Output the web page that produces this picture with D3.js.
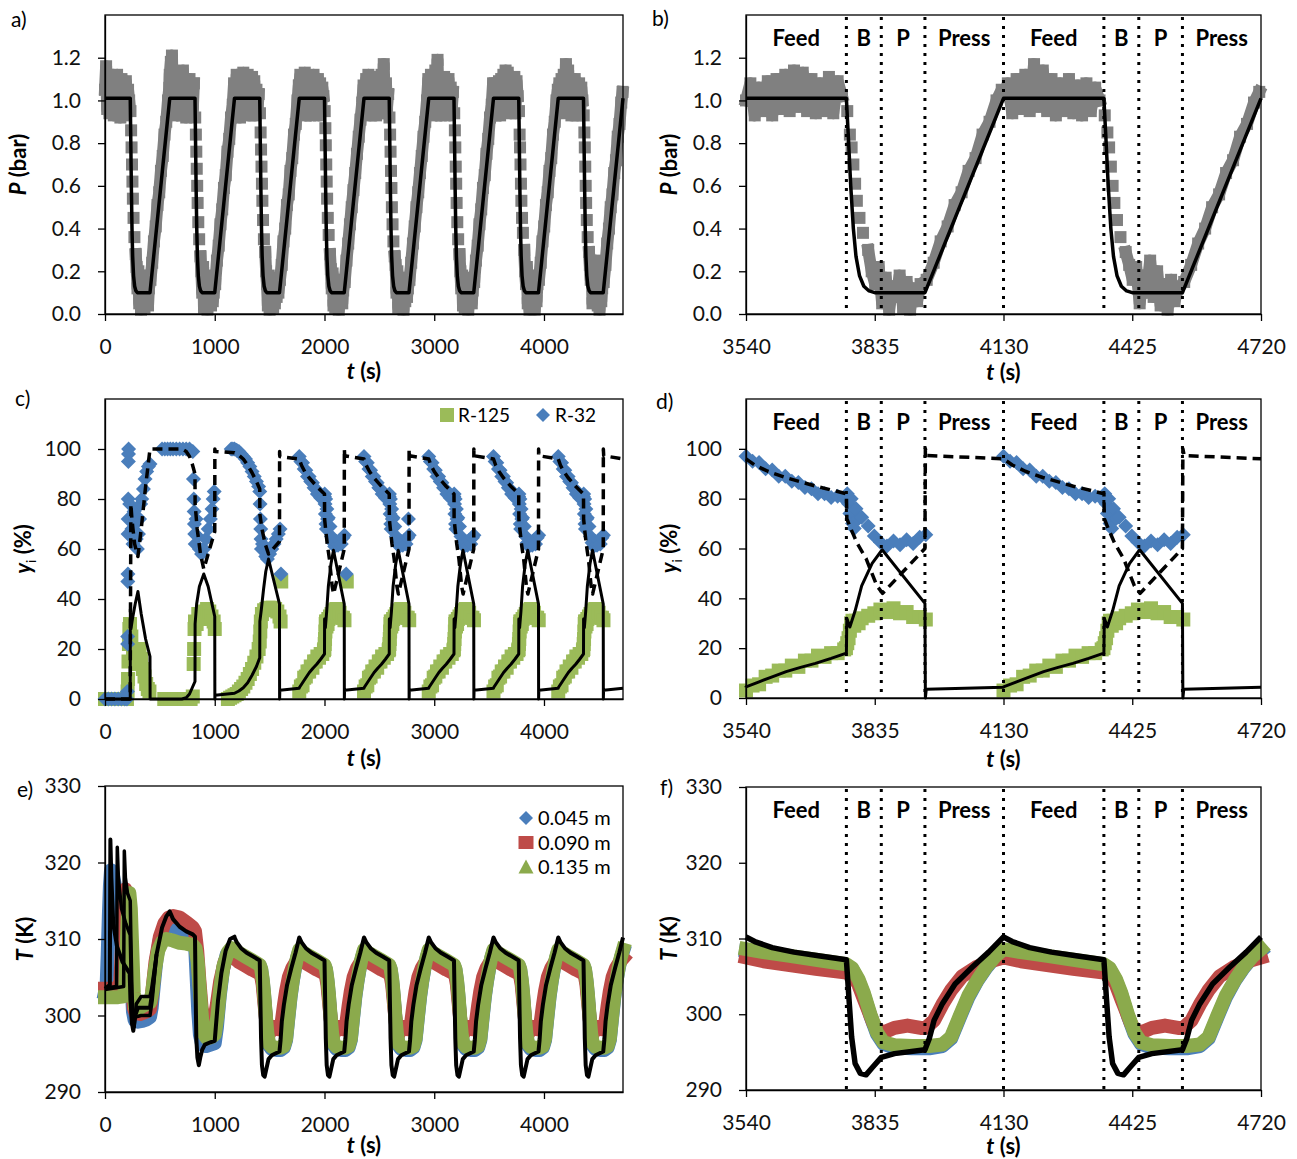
<!DOCTYPE html>
<html>
<head>
<meta charset="utf-8">
<script src="https://cdn.jsdelivr.net/npm/d3@7"></script>
<style>
  body { margin: 0; background: #fff; }
</style>
</head>
<body>
<svg id="chart" width="1297" height="1159"></svg>
<script>
// ---------- cycle layout and ticks ----------
const cycleStarts = [0, 590, 1180, 1770, 2360, 2950, 3540, 4130];
const zoomEdges = [3540, 3770, 3850, 3950, 4130, 4360, 4440, 4540, 4720];
const zoomSteps = ["Feed", "B", "P", "Press", "Feed", "B", "P", "Press"];
const fullTicks = [0, 1000, 2000, 3000, 4000];
const zoomTicks = [3540, 3835, 4130, 4425, 4720];
const pTicks = [0, 0.2, 0.4, 0.6, 0.8, 1.0, 1.2];
const yTicks = [0, 20, 40, 60, 80, 100];
const tTicks = [290, 300, 310, 320, 330];

// ---------- pressure (a, b) ----------
// model: one cycle (offset s, bar), same every cycle
const pModelOffsets = [0, 230, 234, 240, 246, 252, 260, 270, 282, 295, 410, 590];
const pModelCycle = [1.01, 1.01, 0.85, 0.6, 0.4, 0.27, 0.18, 0.13, 0.108, 0.1, 0.1, 1.01];

// experiment: offsets inside a cycle, then per cycle one array per step
const pFeedOffsets = [0,10,20,30,40,50,60,70,80,90,100,110,120,130,140,150,160,170,180,190,200,210,220];
const pBlowOffsets = [232,238,242,246,250,254,260,268];
const pPurgeOffsets = [280,288,296,304,312,320,328,336,344,352,360,368,376,384,392,400];
const pPressOffsets = [414,430,446,462,478,494,510,526,542,558,574,586];

const pFeedExp = [
  [1.05,1.16,0.96,1.12,0.94,1.09,0.95,1.1,0.93,1.06,0.97,1.12,0.94,1.08,0.92,1.1,0.96,1.07,0.93,1.09,0.95,1.05,1.0],
  [1.12,1.18,1.21,0.97,1.13,0.94,1.1,0.93,1.12,0.96,1.07,0.93,1.14,0.95,1.08,0.92,1.06,0.95,1.1,0.93,1.07,0.96,1.08],
  [1.06,0.94,1.12,0.95,1.1,0.92,1.11,0.96,1.13,0.94,1.08,0.95,1.12,0.93,1.06,0.97,1.11,0.94,1.09,0.93,1.05,0.96,1.03],
  [1.07,1.12,0.95,1.1,0.94,1.13,0.93,1.08,0.96,1.11,0.93,1.09,0.95,1.12,0.94,1.07,0.96,1.1,0.93,1.08,0.95,1.06,1.02],
  [1.04,0.95,1.1,0.94,1.12,0.93,1.08,0.96,1.11,0.94,1.09,0.93,1.1,0.95,1.07,0.94,1.12,0.96,1.17,0.94,1.08,0.97,1.03],
  [1.08,0.95,1.12,0.94,1.1,0.96,1.14,0.93,1.19,0.96,1.1,0.93,1.08,0.95,1.11,0.94,1.07,0.96,1.1,0.93,1.06,0.96,1.04],
  [1.0,1.08,0.93,1.06,0.95,1.09,0.93,1.1,0.96,1.12,0.95,1.14,0.97,1.13,0.95,1.1,0.94,1.08,0.95,1.11,0.94,1.09,1.02],
  [1.02,1.08,0.94,1.1,0.96,1.12,0.95,1.17,0.97,1.14,0.95,1.1,0.93,1.08,0.95,1.1,0.94,1.07,0.93,1.08,0.95,1.06,1.0]
];
const pBlowExp = [
  [0.95,0.86,0.78,0.7,0.62,0.54,0.45,0.36],
  [0.92,0.84,0.76,0.68,0.6,0.52,0.43,0.35],
  [0.94,0.85,0.77,0.69,0.61,0.53,0.44,0.35],
  [0.95,0.87,0.79,0.7,0.62,0.54,0.45,0.37],
  [0.92,0.84,0.76,0.67,0.59,0.5,0.42,0.34],
  [0.94,0.86,0.78,0.69,0.61,0.52,0.43,0.35],
  [0.95,0.84,0.78,0.7,0.61,0.53,0.45,0.38],
  [0.93,0.85,0.78,0.69,0.6,0.52,0.44,0.36]
];
const pPurgeExp = [
  [0.28,0.22,0.12,0.2,0.05,0.16,0.02,0.13,0.06,0.18,0.03,0.14,0.07,0.17,0.04,0.12],
  [0.27,0.2,0.1,0.22,0.03,0.15,0.06,0.18,0.02,0.13,0.08,0.17,0.04,0.14,0.06,0.1],
  [0.29,0.2,0.14,0.04,0.18,0.02,0.12,0.07,0.16,0.03,0.14,0.05,0.17,0.08,0.12,0.1],
  [0.28,0.21,0.12,0.19,0.04,0.15,0.03,0.16,0.06,0.13,0.02,0.15,0.07,0.16,0.05,0.11],
  [0.27,0.23,0.1,0.2,0.03,0.14,0.05,0.12,0.07,0.17,0.02,0.13,0.06,0.15,0.08,0.12],
  [0.28,0.2,0.12,0.18,0.04,0.15,0.03,0.14,0.07,0.17,0.02,0.12,0.06,0.16,0.05,0.11],
  [0.3,0.2,0.14,0.22,0.05,0.17,0.02,0.13,0.08,0.18,0.03,0.15,0.02,0.12,0.06,0.14],
  [0.29,0.23,0.16,0.22,0.05,0.18,0.1,0.25,0.08,0.2,0.04,0.14,0.02,0.16,0.06,0.12]
];
const pPressExp = [
  [0.16,0.24,0.34,0.41,0.51,0.57,0.67,0.74,0.84,0.9,1.0,1.06],
  [0.14,0.25,0.32,0.42,0.49,0.59,0.65,0.76,0.82,0.92,0.98,1.08],
  [0.16,0.23,0.34,0.4,0.51,0.56,0.67,0.73,0.84,0.89,1.0,1.07],
  [0.15,0.25,0.33,0.42,0.5,0.58,0.66,0.75,0.83,0.91,0.99,1.07],
  [0.16,0.24,0.33,0.41,0.5,0.57,0.66,0.74,0.83,0.9,1.0,1.1],
  [0.15,0.25,0.32,0.42,0.49,0.59,0.65,0.75,0.82,0.92,0.98,1.08],
  [0.16,0.24,0.34,0.41,0.51,0.57,0.67,0.73,0.84,0.9,1.0,1.05],
  [0.15,0.23,0.33,0.4,0.5,0.56,0.66,0.72,0.83,0.89,0.99,1.04]
];

// ---------- outlet composition (c, d), % ----------
// start-up cycles 0-2, absolute time
const yModel125Start = [[0,0],[230,0],[231,36],[236,28],[250,32],[275,38],[300,43],[330,34],[370,24],[410,17],[411,0],
  [700,0],[740,0.5],[770,2],[795,4.5],[820,7],[821,30],[835,38],[860,45],[900,50],[940,45],[1000,33],[1001,0],[1003,1.5],
  [1180,2.3],[1220,3.2],[1260,4.5],[1300,6.5],[1340,9.5],[1380,13],[1410,16.5],[1411,31],[1425,36],[1445,44],[1465,51],[1490,56],
  [1590,38],[1591,0],[1593,3.5],[1770,4.3]];
const yModel32Start = [[0,0],[230,0],[231,20],[236,78],[245,72],[270,62],[300,57],[330,68],[370,85],[410,100],
  [700,100],[740,99],[770,97],[795,94],[820,90],[821,78],[840,68],[870,58],[900,52],[1000,67],[1001,100],[1003,99],
  [1180,98.5],[1220,97.5],[1260,96],[1300,93.5],[1340,90.5],[1380,87],[1410,84],[1411,74],[1430,68],[1460,62],[1490,58],
  [1590,63],[1591,99],[1593,97],[1770,96]];
// steady cycles 3-7, offset inside the cycle
const yModel125Cycle = [[0,4.5],[30,6.5],[60,8.5],[92,10.6],[125,12.3],[159,13.9],[195,15.9],[230,18],[231,32],[238,28.5],
  [250,35],[265,45],[289,54],[312,59.5],[410,38],[411,0],[413,3.5],[590,4.3]];
const yModel32Cycle = [[0,96],[20,93.5],[50,91],[90,88.5],[160,85],[230,82],[231,72],[240,68],[255,62],[275,56],[300,45],
  [313,42],[410,60],[411,100],[414,97.3],[590,96]];

const yExp32Start = [[0,0],[30,0],[60,0],[90,0],[120,0],[150,0],[180,0],[200,0],[204,3],[206,22],[207,25],[208,47],[209,50],
  [210,66],[211,72],[212,80],[213,95],[214,98],[215,100],[225,78],[235,72],[245,68],[255,62],[265,75],[275,70],[285,64],[295,60],
  [305,66],[315,72],[325,78],[335,80],[350,84],[365,88],[380,91],[395,93],[410,94],
  [520,100],[545,100],[570,100],[595,100],[620,100],[650,100],[680,100],[710,100],[740,100],[770,100],[800,99],[806,88],[809,80],
  [812,75],[815,70],[818,66],[822,62],[830,72],[845,65],[860,60],[880,58],[900,60],[920,64],[940,68],[960,72],[975,76],[985,80],[995,83],
  [1150,100],[1165,100],[1180,100],[1200,99.5],[1220,99],[1240,98],[1260,97],[1280,96],[1300,94.5],[1320,93],[1340,91],[1360,89],
  [1380,87],[1400,85],[1410,83],[1413,78],[1416,72],[1419,68],[1422,64],[1425,60],[1435,62],[1450,60],[1465,57],[1480,56],[1500,58],
  [1520,60],[1540,62],[1560,64],[1580,66],[1595,68]];
const yExp125Start = [[0,0],[30,0],[60,0],[90,0],[120,0],[150,0],[180,0],[200,0],[206,3],[210,8],[214,15],[218,22],[222,28],
  [228,30],[240,25],[255,20],[270,17],[285,14],[300,18],[315,20],[330,16],[345,12],[360,9],[375,6],[390,4],[405,3],
  [540,0],[570,0],[600,0],[630,0],[660,0],[690,0],[720,0],[750,0],[780,0],[800,1],[808,14],[812,20],[816,28],[820,31],[835,30],
  [850,34],[870,32],[890,35],[910,34],[930,36],[950,35],[970,33],[990,31],[1000,28],
  [1120,0],[1140,0.5],[1160,1],[1180,1.5],[1200,2],[1220,3],[1240,4],[1260,5],[1280,6.5],[1300,8],[1320,10],[1340,12],[1360,14.5],
  [1380,17],[1400,20],[1410,23],[1415,27],[1420,31],[1430,34],[1450,35.5],[1470,36],[1490,36.5],[1510,36],[1530,36.5],[1550,36],
  [1570,35],[1590,33],[1600,31]];
const yExpOffsets = [0,15,30,45,60,75,90,105,120,135,150,165,180,195,210,225,
  229,232,235,238,241,244,248,252,258,265, 280,294,308,323,338,353,368,383,398,412];
const yExp32Cycle = [97,95,94.5,92,91.5,89,89,87,86.5,84.5,84,82,82,80.5,81,80,
  81,82,78,74,80,70,68,76,72,72.5, 69,65,62.5,61,63,61.5,63.5,62,64.5,65.5];
const yExp125Cycle = [3,5,5.5,8.5,9,11,11,13,12.5,15,15,17,16.5,18,18,19.5,
  20,22,24,27,30,31,29,31,30,32, 33,34,35.5,34.5,36,34,34.5,32.5,32.5,31.5];
const yExp32Outliers = [[1603,50],[2198,50],[2765,72]];
const yExp125Outliers = [[1606,47],[2203,47]];

// ---------- temperature (e, f), K ----------
const tModelStart = [[0,303.5],[44,304],[49,323],[58,318],[75,312],[110,309],[160,307],[225,305.5],[232,302],[245,299],[258,298],
  [275,300],[300,301],[410,301],[430,303],[470,308],[520,311.5],[560,313],[590,313.6],[620,312.6],[680,311.6],[740,311],
  [800,310.6],[820,310.3],[826,303],[832,297],[842,294.5],[855,293.5],[868,294.5],[885,295.5],[910,296.2],[960,296.5],
  [1000,296.7],[1010,298.5],[1030,302],[1060,305.5],[1100,308.5],[1140,310],[1180,310.3]];
const tModelSpikeB = [[0,303.6],[105,303.8],[112,322],[122,318],[150,314],[190,312],[230,310.5],[238,305],[250,300],
  [265,298.5],[285,301.5],[330,302.5],[410,302.5],[425,303.5],[470,308]];
const tModelSpikeC = [[0,303.4],[170,303.8],[176,321.5],[186,318],[205,316],[230,315],[236,310],[246,303],[258,299],
  [275,299.8],[330,300],[410,300],[430,302],[470,308]];
const tExp045Start = [[0,303],[15,304],[25,308],[35,313],[45,317],[55,319],[70,318.5],[90,317],[120,315],[150,313.5],[180,312],
  [210,310],[230,308.5],[242,304.5],[255,300.5],[270,299.4],[300,299.2],[340,299.3],[380,299.5],[410,299.8],[425,301],[445,304],
  [470,307.5],[500,310],[540,311.4],[580,312],[620,311.8],[680,311],[740,310.3],[800,309.8],[820,309.5],[835,305],[850,300.5],
  [865,297.5],[885,296.2],[920,296],[960,296.2],[1000,296.4],[1020,298.5],[1045,302.5],[1075,306],[1110,308],[1150,308.6],[1180,308.3]];
const tExp090Start = [[0,303.5],[80,303.5],[120,303.6],[140,304.5],[155,309],[170,314],[185,316.5],[200,316],[215,313.5],
  [232,309],[248,304.5],[262,301],[280,300.3],[320,300.2],[370,300.5],[410,300.8],[430,303],[460,307],[500,310.3],[540,312],
  [580,312.8],[620,313],[680,312.8],[740,312.2],[800,311.5],[820,311],[840,308.5],[860,304.5],[880,301],[900,299.6],[930,299.3],
  [970,299.4],[1000,299.8],[1020,301.5],[1050,304.5],[1090,307],[1140,307.8],[1180,307.5]];
const tExp135Start = [[0,302.4],[60,302.4],[120,302.4],[170,302.5],[185,304],[198,309],[210,314],[222,316],[235,314],[250,308],
  [262,303],[275,301],[300,300.8],[340,301.2],[380,301.5],[410,301.7],[430,303],[455,306],[485,308.5],[520,309.6],[560,310],
  [620,309.8],[680,309.5],[740,309.4],[800,309.2],[825,308.8],[845,307],[865,303],[885,299.5],[905,297.5],[930,297],[970,297.2],
  [1000,297.5],[1025,300],[1050,303.5],[1080,306.5],[1120,308.3],[1150,308.8],[1180,308.6]];
// steady cycles 2-7, offset inside the cycle
const tModelCycle = [[0,310.2],[20,309.6],[60,308.8],[110,308.2],[170,307.7],[230,307.2],[236,302],[242,297],[250,293.5],
  [262,292.2],[275,292],[290,293],[310,294.3],[340,294.8],[410,295.3],[420,296.8],[431,299.2],[450,301.4],[479,304],
  [518,306.2],[556,308.2],[590,310.2]];
const tExp045Cycle = [[0,308.4],[40,308.1],[100,307.6],[160,307.1],[230,306.5],[243,306],[258,304.4],[270,302.6],[285,299.8],
  [300,297.4],[315,296.1],[340,295.6],[380,295.5],[420,295.5],[450,295.8],[470,296.8],[490,299.6],[510,302.3],[530,304.4],
  [550,306.1],[570,307.5],[590,308.4]];
const tExp090Cycle = [[0,307.5],[40,307],[100,306.5],[160,306],[230,305.5],[245,305],[257,304],[270,302],[281,300.4],
  [292,298.8],[300,298],[315,297.6],[340,298.2],[370,298.5],[400,298.2],[412,298.2],[431,299.2],[450,301.3],[470,303.2],
  [495,305],[527,306.2],[560,307],[590,307.5]];
const tExp135Cycle = [[0,308.6],[40,308.2],[100,307.7],[160,307.2],[230,306.6],[243,306.1],[258,304.6],[270,302.8],
  [285,300],[300,297.6],[315,296.3],[340,295.9],[380,295.8],[420,295.8],[450,296],[470,297],[490,299.8],[510,302.5],
  [530,304.5],[550,306.2],[570,307.6],[590,308.6]];

// ---------- assemble time series ----------
const atCycles = (pairs, ks) => ks.flatMap(k => pairs.map(([o, v]) => [cycleStarts[k] + o, v]));
const steadyY = [3, 4, 5, 6, 7];
const steadyT = [2, 3, 4, 5, 6, 7];

const pModel = cycleStarts.flatMap(c0 => pModelOffsets.map((o, j) => [c0 + o, pModelCycle[j]]));
const pExp = cycleStarts.flatMap((c0, k) => [
  [pFeedOffsets, pFeedExp[k]], [pBlowOffsets, pBlowExp[k]], [pPurgeOffsets, pPurgeExp[k]], [pPressOffsets, pPressExp[k]]
].flatMap(([offs, vals]) => offs.map((o, j) => [c0 + o, vals[j], o])));

const yModel125 = yModel125Start.concat(atCycles(yModel125Cycle, steadyY));
const yModel32 = yModel32Start.concat(atCycles(yModel32Cycle, steadyY));
const yExp32 = yExp32Start.concat(atCycles(yExpOffsets.map((o, j) => [o, yExp32Cycle[j]]), steadyY), yExp32Outliers);
const yExp125 = yExp125Start.concat(atCycles(yExpOffsets.map((o, j) => [o, yExp125Cycle[j]]), steadyY), yExp125Outliers);

const tModel = tModelStart.concat(atCycles(tModelCycle, steadyT));
const tExp045 = tExp045Start.concat(atCycles(tExp045Cycle, steadyT));
const tExp090 = tExp090Start.concat(atCycles(tExp090Cycle, steadyT));
const tExp135 = tExp135Start.concat(atCycles(tExp135Cycle, steadyT));

// ---------- drawing ----------
const FONT = "Lato, 'Liberation Sans', sans-serif";
const GREY = "#808080", GREEN = "#9BBB59", BLUE = "#4A7EBB", RED = "#BE4B48", TGREEN = "#8BAA4C";
const svg = d3.select("#chart");

function makePanel(o) {
  const x = d3.scaleLinear().domain(o.xDomain).range([o.left, o.right]);
  const y = d3.scaleLinear().domain(o.yDomain).range([o.bottom, o.top]);
  const g = svg.append("g");
  const marks = g.append("g");
  const over = g.append("g");
  const front = g.append("g");

  front.append("rect")
    .attr("x", o.left).attr("y", o.top)
    .attr("width", o.right - o.left).attr("height", o.bottom - o.top)
    .attr("fill", "none").attr("stroke", "#000").attr("stroke-width", 1.3);

  const xa = front.append("g").attr("transform", `translate(0,${o.bottom})`)
    .call(d3.axisBottom(x).tickValues(o.xTicks).tickSize(7).tickSizeOuter(0).tickPadding(18).tickFormat(d3.format("d")));
  const ya = front.append("g").attr("transform", `translate(${o.left},0)`)
    .call(d3.axisLeft(y).tickValues(o.yTicks).tickSize(7).tickSizeOuter(0).tickPadding(17).tickFormat(o.yFormat));
  [xa, ya].forEach(a => {
    a.selectAll("text").attr("font-size", 21).attr("font-family", FONT).attr("fill", "#111");
    a.selectAll("line,path").attr("stroke", "#000").attr("stroke-width", 1.3);
  });

  front.append("text").attr("x", o.labelX).attr("y", o.labelY)
    .attr("font-family", FONT).attr("font-size", 21).text(o.label);

  // x title: t (s)
  const xt = front.append("text").attr("x", (o.left + o.right) / 2).attr("y", o.xTitleY)
    .attr("text-anchor", "middle").attr("font-family", FONT).attr("font-size", 22).attr("font-weight", "bold");
  xt.append("tspan").attr("font-style", "italic").text("t");
  xt.append("tspan").text(" (s)");

  // y title
  const yt = front.append("text")
    .attr("transform", `translate(${o.yTitleX},${(o.top + o.bottom) / 2}) rotate(-90)`)
    .attr("text-anchor", "middle").attr("font-family", FONT).attr("font-size", 22).attr("font-weight", "bold");
  o.yTitle.forEach(p => {
    const s = yt.append("tspan").text(p.text);
    if (p.italic) s.attr("font-style", "italic");
    if (p.sub) s.attr("font-size", 14).attr("font-weight", "normal").attr("dy", 5);
    if (p.back) s.attr("dy", -5);
  });

  return { x, y, marks, over, front, o };
}

const inView = (p, data) => {
  const [a, b] = p.x.domain();
  return data.filter(d => d[0] >= a && d[0] <= b);
};

function drawLine(p, data, style) {
  const line = d3.line().x(d => p.x(d[0])).y(d => p.y(d[1]));
  if (style.defined) line.defined(style.defined);
  (style.layer || p.marks).append("path").datum(inView(p, data))
    .attr("d", line).attr("fill", "none")
    .attr("stroke", style.color).attr("stroke-width", style.width)
    .attr("stroke-dasharray", style.dash || null)
    .attr("stroke-linejoin", "round")
    .attr("stroke-linecap", style.cap || "butt");
}

function drawSquares(p, data, color, s) {
  p.marks.append("g").selectAll("rect").data(inView(p, data)).join("rect")
    .attr("x", d => p.x(d[0]) - s / 2).attr("y", d => p.y(d[1]) - s / 2)
    .attr("width", s).attr("height", s).attr("fill", color);
}

function drawDiamonds(p, data, color, r) {
  p.marks.append("g").selectAll("path").data(inView(p, data)).join("path")
    .attr("transform", d => `translate(${p.x(d[0])},${p.y(d[1])})`)
    .attr("d", `M0,${-r}L${r},0L0,${r}L${-r},0Z`).attr("fill", color);
}

function drawSteps(p) {
  const top = p.o.top, bottom = p.o.bottom;
  zoomEdges.slice(1, -1).forEach(t => {
    p.over.append("line").attr("x1", p.x(t)).attr("x2", p.x(t)).attr("y1", top + 2).attr("y2", bottom)
      .attr("stroke", "#000").attr("stroke-width", 3).attr("stroke-dasharray", "3,6");
  });
  zoomSteps.forEach((name, i) => {
    p.front.append("text")
      .attr("x", p.x((zoomEdges[i] + zoomEdges[i + 1]) / 2)).attr("y", top + 31)
      .attr("text-anchor", "middle").attr("font-family", FONT).attr("font-size", 22).attr("font-weight", "bold")
      .text(name);
  });
}

const left = { left: 105, right: 623 };
const right = { left: 746, right: 1261 };
const pTitle = [{ text: "P", italic: true }, { text: " (bar)" }];
const yTitle = [{ text: "y", italic: true }, { text: "i", sub: true }, { text: " (%)", back: true }];
const tTitle = [{ text: "T", italic: true }, { text: " (K)" }];
const fmt1 = d3.format(".1f"), fmt0 = d3.format("d");

const panels = {
  a: makePanel({ ...left, top: 15, bottom: 314, xDomain: [0, 4720], yDomain: [0, 1.4], xTicks: fullTicks, yTicks: pTicks,
    yFormat: fmt1, label: "a)", labelX: 11, labelY: 27, xTitleY: 379, yTitleX: 26, yTitle: pTitle }),
  b: makePanel({ ...right, top: 15, bottom: 314, xDomain: [3540, 4720], yDomain: [0, 1.4], xTicks: zoomTicks, yTicks: pTicks,
    yFormat: fmt1, label: "b)", labelX: 652, labelY: 26, xTitleY: 380, yTitleX: 677, yTitle: pTitle }),
  c: makePanel({ ...left, top: 399, bottom: 699, xDomain: [0, 4720], yDomain: [0, 120], xTicks: fullTicks, yTicks: yTicks,
    yFormat: fmt0, label: "c)", labelX: 15, labelY: 406, xTitleY: 766, yTitleX: 31, yTitle: yTitle }),
  d: makePanel({ ...right, top: 399, bottom: 698, xDomain: [3540, 4720], yDomain: [0, 120], xTicks: zoomTicks, yTicks: yTicks,
    yFormat: fmt0, label: "d)", labelX: 656, labelY: 409, xTitleY: 767, yTitleX: 677, yTitle: yTitle }),
  e: makePanel({ ...left, top: 786, bottom: 1092, xDomain: [0, 4720], yDomain: [290, 330], xTicks: fullTicks, yTicks: tTicks,
    yFormat: fmt0, label: "e)", labelX: 17, labelY: 797, xTitleY: 1153, yTitleX: 33, yTitle: tTitle }),
  f: makePanel({ ...right, top: 787, bottom: 1090, xDomain: [3540, 4720], yDomain: [290, 330], xTicks: zoomTicks, yTicks: tTicks,
    yFormat: fmt0, label: "f)", labelX: 660, labelY: 795, xTitleY: 1154, yTitleX: 677, yTitle: tTitle })
};

// pressure: band through the slow steps, separate squares during blowdown
const notBlowdown = d => !(d[2] > 230 && d[2] < 275);
[panels.a, panels.b].forEach(p => {
  drawLine(p, pExp, { color: GREY, width: 12, defined: notBlowdown, cap: "square" });
  drawSquares(p, pExp, GREY, 12);
  drawLine(p, pModel, { color: "#000", width: 3.5, layer: p.front });
});
drawSteps(panels.b);

// composition
[panels.c, panels.d].forEach(p => {
  drawSquares(p, yExp125, GREEN, 14);
  drawDiamonds(p, yExp32, BLUE, 7.5);
  drawLine(p, yModel32, { color: "#000", width: 3.5, dash: "10,6", layer: p.front });
  drawLine(p, yModel125, { color: "#000", width: 3, layer: p.front });
});
drawSteps(panels.d);

// temperature
[[panels.e, 4], [panels.f, 5.5]].forEach(([p, w]) => {
  drawLine(p, tExp045, { color: BLUE, width: 14, cap: "square" });
  drawLine(p, tExp090, { color: RED, width: 14, cap: "square" });
  drawLine(p, tExp135, { color: TGREEN, width: 14, cap: "square" });
  drawLine(p, tModel, { color: "#000", width: w, layer: p.front });
});
drawLine(panels.e, tModelSpikeB, { color: "#000", width: 3.5, layer: panels.e.front });
drawLine(panels.e, tModelSpikeC, { color: "#000", width: 3.5, layer: panels.e.front });
drawSteps(panels.f);

// legends
const lc = panels.c.front;
lc.append("rect").attr("x", 440).attr("y", 408).attr("width", 14).attr("height", 14).attr("fill", GREEN);
lc.append("text").attr("x", 458).attr("y", 422).attr("font-family", FONT).attr("font-size", 19).text("R-125");
lc.append("path").attr("transform", "translate(543,415)").attr("d", "M0,-7L7,0L0,7L-7,0Z").attr("fill", BLUE);
lc.append("text").attr("x", 555).attr("y", 422).attr("font-family", FONT).attr("font-size", 19).text("R-32");

const le = panels.e.front;
const tLegend = [
  { label: "0.045 m", color: BLUE, shape: "M0,-7L7,0L0,7L-7,0Z" },
  { label: "0.090 m", color: RED, shape: "M-7.5,-6.5H7.5V6.5H-7.5Z" },
  { label: "0.135 m", color: TGREEN, shape: "M0,-7.5L7.5,6.5H-7.5Z" }
];
tLegend.forEach((d, i) => {
  const cy = 818 + i * 24.5;
  le.append("path").attr("transform", `translate(526,${cy})`).attr("d", d.shape).attr("fill", d.color);
  le.append("text").attr("x", 538).attr("y", cy + 7).attr("font-family", FONT).attr("font-size", 20).text(d.label);
});
</script>
</body>
</html>
